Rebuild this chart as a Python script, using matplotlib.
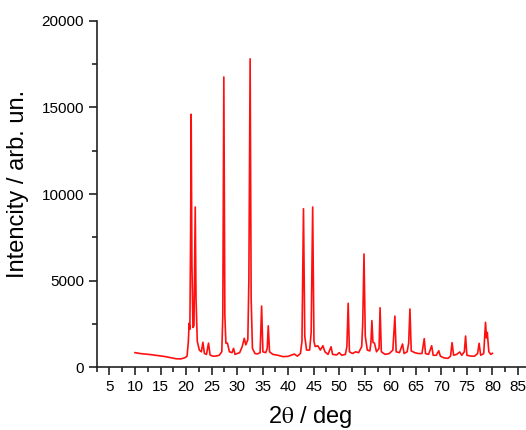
import numpy as np
import matplotlib
matplotlib.use("Agg")
import matplotlib.pyplot as plt
from matplotlib.ticker import MultipleLocator

# points (2theta in deg, intensity in arb. un.)
two_theta = [10.0, 11.0, 12.0, 13.0, 14.0, 15.0, 16.0, 17.0, 18.0, 19.0,
             19.8, 20.2, 20.45, 20.6, 20.75, 20.9, 21.0, 21.15, 21.35, 21.55,
             21.7, 21.8, 21.95, 22.2, 22.6, 23.0, 23.3, 23.6, 24.0, 24.4,
             24.7, 25.2, 25.8, 26.5, 27.0, 27.2, 27.4, 27.6, 27.8, 28.1,
             28.5, 29.0, 29.3, 29.6, 30.0, 30.5, 31.0, 31.4, 31.7, 32.1,
             32.3, 32.55, 32.75, 33.0, 33.5, 34.0, 34.5, 34.8, 35.05, 35.6,
             35.9, 36.1, 36.35, 37.0, 38.0, 39.0, 40.0, 41.2, 41.8, 42.4,
             42.7, 43.0, 43.25, 43.6, 44.2, 44.5, 44.8, 45.05, 45.3, 45.8,
             46.3, 46.8, 47.2, 47.8, 48.4, 48.7, 49.5, 50.0, 50.5, 51.2,
             51.5, 51.75, 52.0, 52.6, 53.2, 53.8, 54.4, 54.6, 54.85, 55.1,
             55.5, 56.0, 56.2, 56.4, 56.6, 56.9, 57.3, 57.8, 58.0, 58.25,
             59.0, 59.8, 60.5, 60.9, 61.15, 61.8, 62.4, 62.7, 63.3, 63.6,
             63.85, 64.1, 64.8, 65.5, 66.2, 66.65, 66.9, 67.5, 68.1, 68.4,
             69.0, 69.5, 69.8, 70.5, 71.3, 71.8, 72.1, 72.4, 73.0, 73.6,
             74.0, 74.5, 74.75, 75.0, 75.8, 76.5, 77.1, 77.4, 77.7, 78.3,
             78.65, 78.85, 79.0, 79.3, 79.7, 80.0]
intensity = [850, 800, 770, 740, 700, 660, 620, 560, 500, 490,
             560, 650, 1500, 2550, 2200, 8000, 14600, 6000, 2300, 2400,
             6500, 9250, 4000, 1500, 1000, 900, 1450, 800, 750, 1400,
             720, 650, 650, 700, 900, 3000, 16750, 3000, 1400, 1400,
             900, 850, 1100, 750, 800, 850, 1200, 1680, 1300, 1600,
             5000, 17800, 4000, 1100, 800, 780, 850, 3540, 900, 850,
             1100, 2400, 900, 750, 700, 620, 640, 770, 650, 800,
             1500, 9150, 1800, 1000, 1000, 2000, 9250, 1500, 1200, 1250,
             1000, 1250, 900, 750, 1190, 750, 720, 850, 700, 750,
             1200, 3700, 900, 800, 900, 850, 1200, 2500, 6540, 1800,
             1000, 950, 1400, 2700, 1450, 1400, 900, 1100, 3440, 900,
             750, 800, 1000, 2960, 900, 850, 1350, 800, 900, 1400,
             3370, 950, 850, 800, 800, 1660, 800, 750, 1250, 700,
             700, 960, 650, 550, 520, 650, 1430, 700, 750, 890,
             700, 900, 1810, 700, 650, 650, 800, 1390, 700, 800,
             2600, 1700, 2020, 900, 750, 810]

x_ticks = np.arange(5, 90, 5)
y_ticks = [0, 5000, 10000, 15000, 20000]

plt.rcParams['font.family'] = ['Liberation Sans', 'DejaVu Sans']
plt.rcParams['mathtext.fontset'] = 'stix'

fig = plt.figure(figsize=(5.26, 4.30), dpi=100)
ax = fig.add_axes([96.7 / 526, 1 - 367.4 / 430, 434 / 526, 346.7 / 430])

ax.plot(two_theta, intensity, color='#ff1010', lw=1.2)

ax.set_xlim(2.5, 87.5)
ax.set_ylim(0, 20000)
ax.set_xticks(x_ticks)
ax.set_yticks(y_ticks)
ax.xaxis.set_minor_locator(MultipleLocator(2.5))
ax.yaxis.set_minor_locator(MultipleLocator(2500))

for side in ['top', 'right']:
    ax.spines[side].set_visible(False)
for side in ['left', 'bottom']:
    ax.spines[side].set_linewidth(1.2)
    ax.spines[side].set_color('#222222')

ax.tick_params(which='major', direction='out', length=6, width=1.2,
               labelsize=11, pad=3, color='#222222')
ax.tick_params(which='minor', direction='out', length=3.5, width=1.2,
               color='#222222')

ax.set_ylabel('Intencity / arb. un.', fontsize=17)
ax.yaxis.set_label_coords(-0.155, 0.53)
ax.set_xlabel('2$\\mathrm{\\theta}$ / deg', fontsize=17)
ax.xaxis.set_label_coords((310 - 96.7) / 434, -0.105)

fig.savefig('out.png', dpi=100)
